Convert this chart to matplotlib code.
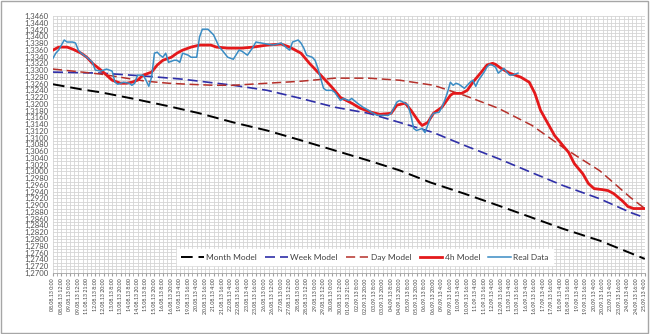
import matplotlib
matplotlib.use("Agg")
from matplotlib import pyplot as plt
from matplotlib.ticker import MultipleLocator, FuncFormatter
from matplotlib.patches import Rectangle
import numpy as np

# x axis: 4h bars, one label every 3 bars
tickLabels = [
    "08.08.13 0:00", "08.08.13 12:00", "09.08.13 0:00", "09.08.13 12:00",
    "11.08.13 21:00", "12.08.13 8:00", "12.08.13 20:00", "13.08.13 8:00",
    "13.08.13 20:00", "14.08.13 8:00", "14.08.13 20:00", "15.08.13 8:00",
    "15.08.13 20:00", "16.08.13 8:00", "16.08.13 20:00", "19.08.13 4:00",
    "19.08.13 16:00", "20.08.13 4:00", "20.08.13 16:00", "21.08.13 4:00",
    "21.08.13 16:00", "22.08.13 4:00", "22.08.13 16:00", "23.08.13 4:00",
    "23.08.13 16:00", "26.08.13 0:00", "26.08.13 12:00", "27.08.13 0:00",
    "27.08.13 12:00", "28.08.13 0:00", "28.08.13 12:00", "29.08.13 0:00",
    "29.08.13 12:00", "30.08.13 0:00", "30.08.13 12:00", "01.09.13 21:00",
    "02.09.13 8:00", "02.09.13 20:00", "03.09.13 8:00", "03.09.13 20:00",
    "04.09.13 8:00", "04.09.13 20:00", "05.09.13 8:00", "05.09.13 20:00",
    "06.09.13 8:00", "06.09.13 20:00", "09.09.13 4:00", "09.09.13 16:00",
    "10.09.13 4:00", "10.09.13 16:00", "11.09.13 4:00", "11.09.13 16:00",
    "12.09.13 4:00", "12.09.13 16:00", "13.09.13 4:00", "13.09.13 16:00",
    "16.09.13 4:00", "16.09.13 16:00", "17.09.13 4:00", "17.09.13 16:00",
    "18.09.13 4:00", "18.09.13 16:00", "19.09.13 4:00", "19.09.13 16:00",
    "20.09.13 4:00", "20.09.13 16:00", "23.09.13 4:00", "23.09.13 16:00",
    "24.09.13 4:00", "24.09.13 16:00", "25.09.13 4:00",
]

monthBars = [0, 10, 17, 28, 41, 52, 64, 76, 88, 100, 112, 123, 134, 146, 158, 170, 181, 194, 210]
monthVals = [1.3258, 1.3243, 1.3234, 1.3216, 1.3193, 1.3172, 1.3145, 1.3121, 1.3092, 1.3062,
             1.3032, 1.3003, 1.2967, 1.2934, 1.2899, 1.2863, 1.2830, 1.2795, 1.2741]

weekBars = [0, 17, 33, 46, 58, 64, 76, 88, 100, 112, 123, 135, 146, 158, 170, 181, 194, 205, 210]
weekVals = [1.3294, 1.3291, 1.3282, 1.3273, 1.3261, 1.3255, 1.3240, 1.3216, 1.3190, 1.3172,
            1.3145, 1.3115, 1.3077, 1.3038, 1.2996, 1.2958, 1.2919, 1.2878, 1.2863]

dayBars = [0, 7, 17, 26, 33, 41, 48, 57, 64, 76, 88, 100, 112, 123, 135, 146, 158, 170, 181, 194, 205, 210]
dayVals = [1.3303, 1.3297, 1.3288, 1.3276, 1.3267, 1.3261, 1.3258, 1.3255, 1.3255, 1.3261, 1.3267,
           1.3276, 1.3276, 1.3270, 1.3255, 1.3225, 1.3187, 1.3136, 1.3071, 1.3002, 1.2922, 1.2890]

h4Bars = [0, 2, 5, 7, 10, 12, 14, 17, 19, 21, 24, 26, 28, 30, 32, 35, 37, 39, 42, 44, 46, 49,
          52, 56, 58, 62, 67, 71, 76, 81, 84, 88, 91, 95, 99, 102, 106, 109, 113, 116, 120, 122,
          125, 127, 130, 131, 133, 135, 138, 141, 142, 145, 147, 149, 152, 154, 156, 157, 159,
          162, 164, 166, 169, 171, 173, 176, 178, 180, 183, 185, 188, 190, 192, 195, 197, 199,
          202, 204, 206, 210]
h4Vals = [1.3359, 1.3368, 1.3368, 1.3362, 1.3350, 1.3338, 1.3320, 1.3300, 1.3285, 1.3270,
          1.3261, 1.3261, 1.3264, 1.3270, 1.3285, 1.3294, 1.3315, 1.3329, 1.3338, 1.3350,
          1.3359, 1.3368, 1.3374, 1.3374, 1.3368, 1.3365, 1.3365, 1.3368, 1.3374, 1.3377,
          1.3368, 1.3350, 1.3320, 1.3285, 1.3249, 1.3219, 1.3202, 1.3187, 1.3175, 1.3169,
          1.3172, 1.3196, 1.3202, 1.3181, 1.3145, 1.3136, 1.3145, 1.3172, 1.3190, 1.3225,
          1.3231, 1.3231, 1.3240, 1.3264, 1.3294, 1.3315, 1.3320, 1.3317, 1.3305, 1.3291,
          1.3285, 1.3279, 1.3264, 1.3231, 1.3181, 1.3136, 1.3106, 1.3086, 1.3056, 1.3023,
          1.2993, 1.2964, 1.2949, 1.2946, 1.2943, 1.2934, 1.2913, 1.2896, 1.2890, 1.2890]

realBars = [0, 1, 2, 4, 5, 7, 8, 9, 10, 12, 14, 15, 17, 19, 21, 22, 23, 25, 27, 28, 29, 30,
            32, 33, 34, 35, 36, 37, 38, 39, 40, 41, 43, 44, 45, 46, 48, 49, 51, 52, 53, 55,
            57, 59, 60, 62, 64, 66, 67, 69, 71, 72, 74, 76, 78, 81, 83, 84, 85, 87, 88, 89,
            90, 92, 93, 94, 96, 97, 99, 100, 102, 103, 105, 106, 108, 110, 112, 113, 115, 117,
            119, 120, 122, 123, 125, 126, 127, 128, 129, 131, 132, 134, 135, 137, 138, 139,
            140, 141, 142, 143, 144, 146, 147, 148, 149, 150, 151, 153, 154, 155, 156, 157,
            158, 160, 161, 162, 163, 165]
realVals = [1.3335, 1.3350, 1.3359, 1.3389, 1.3383, 1.3383, 1.3380, 1.3359, 1.3350, 1.3338,
            1.3323, 1.3300, 1.3297, 1.3303, 1.3297, 1.3264, 1.3258, 1.3264, 1.3261, 1.3255,
            1.3261, 1.3285, 1.3285, 1.3270, 1.3252, 1.3279, 1.3350, 1.3353, 1.3344, 1.3338,
            1.3350, 1.3323, 1.3329, 1.3329, 1.3323, 1.3350, 1.3344, 1.3338, 1.3338, 1.3398,
            1.3421, 1.3421, 1.3404, 1.3368, 1.3359, 1.3338, 1.3332, 1.3359, 1.3356, 1.3344,
            1.3368, 1.3383, 1.3380, 1.3377, 1.3374, 1.3380, 1.3365, 1.3359, 1.3383, 1.3389,
            1.3380, 1.3365, 1.3344, 1.3338, 1.3329, 1.3305, 1.3246, 1.3240, 1.3240, 1.3234,
            1.3210, 1.3216, 1.3210, 1.3216, 1.3202, 1.3190, 1.3181, 1.3175, 1.3166, 1.3166,
            1.3166, 1.3172, 1.3205, 1.3210, 1.3202, 1.3196, 1.3166, 1.3127, 1.3121, 1.3127,
            1.3115, 1.3160, 1.3172, 1.3175, 1.3190, 1.3210, 1.3234, 1.3264, 1.3255, 1.3261,
            1.3258, 1.3246, 1.3255, 1.3264, 1.3270, 1.3252, 1.3270, 1.3294, 1.3309, 1.3317,
            1.3314, 1.3309, 1.3291, 1.3305, 1.3294, 1.3285, 1.3285, 1.3291]

plt.rcParams["font.family"] = ["Lato", "DejaVu Sans"]

fig = plt.figure(figsize=(6.5, 3.34), dpi=100)
ax = fig.add_axes([0.0815, 0.1835, 0.9105, 0.7685])
fig.patches.append(Rectangle((0.002, 0.003), 0.995, 0.993, transform=fig.transFigure,
                             fill=False, edgecolor="#a6a6a6", linewidth=1.0))

ax.plot(monthBars, monthVals, color="black", linewidth=1.4, dashes=(6, 3), label="Month Model")
ax.plot(weekBars, weekVals, color="#2f2fa8", linewidth=1.2, dashes=(6, 3), label="Week Model")
ax.plot(dayBars, dayVals, color="#b5302a", linewidth=1.1, dashes=(6, 3), label="Day Model")
ax.plot(h4Bars, h4Vals, color="#e4191b", linewidth=2.0, label="4h Model")
ax.plot(realBars, realVals, color="#3a8cc4", linewidth=1.1, label="Real Data")

ax.set_xlim(0, 210)
ax.set_ylim(1.2700, 1.3460)
ax.set_xticks(np.arange(len(tickLabels)) * 3)
ax.set_xticklabels(tickLabels, rotation=90, fontsize=3.8, color="#404040")
ax.xaxis.set_minor_locator(MultipleLocator(1.5))
ax.yaxis.set_major_locator(MultipleLocator(0.002))
ax.yaxis.set_minor_locator(MultipleLocator(0.001))
ax.yaxis.set_major_formatter(FuncFormatter(lambda v, p: f"{v:.4f}".replace(".", ",")))
ax.tick_params(axis="y", labelsize=5.6, labelcolor="#505050", length=0, pad=3)
ax.tick_params(axis="x", which="both", length=2, color="#a0a0a0", pad=2)
ax.tick_params(axis="y", which="minor", length=0)

ax.grid(True, which="both", color="#d4d4d4", linewidth=0.6)
ax.set_axisbelow(True)
for side in ["top", "right", "left"]:
    ax.spines[side].set_visible(False)
ax.spines["bottom"].set_color("#a0a0a0")
ax.spines["bottom"].set_linewidth(0.6)

leg = ax.legend(loc="center", bbox_to_anchor=(0.527, 0.061), ncol=5, fontsize=6,
                frameon=True, framealpha=1, edgecolor="white", fancybox=False,
                handlelength=2.7, handletextpad=0.3, columnspacing=1.0, borderpad=0.5)
for t in leg.get_texts():
    t.set_color("#404040")

fig.savefig("out.png", dpi=100)
